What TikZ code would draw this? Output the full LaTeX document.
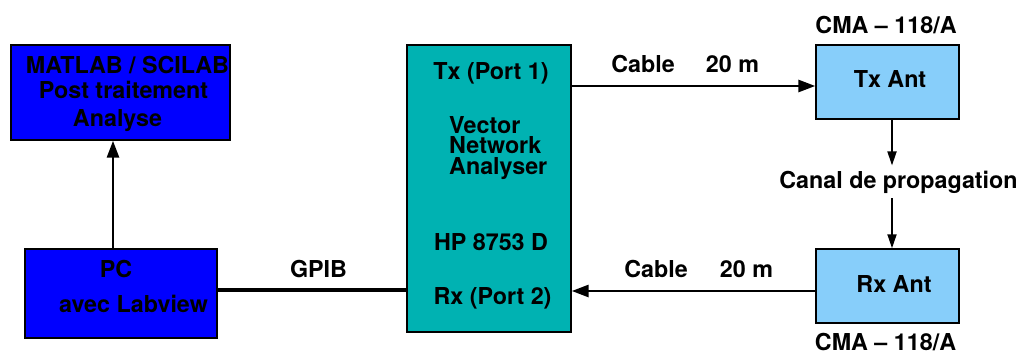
\documentclass[tikz,border=0pt]{standalone}
\usepackage{fontspec}
\setmainfont{TeX Gyre Heros}
\usetikzlibrary{arrows.meta}
\definecolor{pcblue}{RGB}{0,0,255}
\definecolor{vnateal}{RGB}{0,178,178}
\definecolor{antblue}{RGB}{135,206,250}
\tikzset{
  box/.style={draw=black, line width=1.4pt, inner sep=0pt, minimum width=#1},
  lbl/.style={inner sep=0pt, anchor=base, font=\fontsize{23.3}{25}\selectfont\bfseries},
  lblw/.style={inner sep=0pt, anchor=base west, font=\fontsize{23.3}{25}\selectfont\bfseries},
  bigarr/.style={line width=2.8pt, -{Triangle[length=17pt,width=12pt]}},
  thinarr/.style={line width=1.8pt, -{Triangle[length=14pt,width=9pt]}},
  wire/.style={line width=3.2pt}
}
\begin{document}
\begin{tikzpicture}[x=1pt,y=-1pt]
\useasboundingbox (0,0) rectangle (1027,351);
% boxes
\node[box=219pt, minimum height=95pt, fill=pcblue] (matlab) at (120.5,92.5) {};
\node[box=192pt, minimum height=89pt, fill=pcblue] (pc) at (121,293.5) {};
\node[box=164pt, minimum height=287pt, fill=vnateal] (vna) at (489,188.5) {};
\node[box=143pt, minimum height=74pt, fill=antblue] (txant) at (887.5,82) {};
\node[box=143pt, minimum height=74pt, fill=antblue] (rxant) at (887.5,286) {};
% texts
\node[lbl] (t1) at (127.5,73) {MATLAB / SCILAB};
\node[lbl] (t2) at (123.5,98) {Post traitement};
\node[lbl] (t3) at (117.5,126) {Analyse};
\node[lbl] (t4) at (116,277) {PC};
\node[lbl] (t5) at (133.5,312) {avec Labview};
\node[lbl] (t6) at (318.5,277) {GPIB};
\node[lbl] (t7) at (491,79) {Tx (Port 1)};
\node[lblw] (t8) at (449,133) {Vector};
\node[lblw] (t9) at (449,153) {Network};
\node[lblw] (t10) at (449,174) {Analyser};
\node[lbl] (t11) at (491,250) {HP 8753 D};
\node[lbl] (t12) at (492.5,304) {Rx (Port 2)};
\node[lbl] (t13) at (643,72) {Cable};
\node[lbl] (t14) at (732.5,72) {20 m};
\node[lbl] (t15) at (656,277) {Cable};
\node[lbl] (t16) at (746.5,277) {20 m};
\node[lbl] (t17) at (886,33) {CMA -- 118/A};
\node[lbl] (t18) at (890,87) {Tx Ant};
\node[lbl, inner ysep=5pt] (canal) at (898.5,188) {Canal de propagation};
\node[lbl] (t19) at (894,292) {Rx Ant};
\node[lbl] (t20) at (885.5,350) {CMA -- 118/A};
% reference coordinates
\coordinate (ax) at (113,0);
\coordinate (gy) at (0,290);
\coordinate (ty) at (0,86);
\coordinate (ry) at (0,291);
\coordinate (vx) at (892,0);
% connectors
\draw[bigarr] (pc.north -| ax) -- (matlab.south -| ax);
\draw[wire] (pc.east |- gy) -- (vna.west |- gy);
\draw[bigarr] (vna.east |- ty) -- (txant.west |- ty);
\draw[bigarr] (rxant.west |- ry) -- (vna.east |- ry);
\draw[thinarr] (txant.south -| vx) -- (canal.north -| vx);
\draw[thinarr] (canal.south -| vx) -- (rxant.north -| vx);
\end{tikzpicture}
\end{document}
